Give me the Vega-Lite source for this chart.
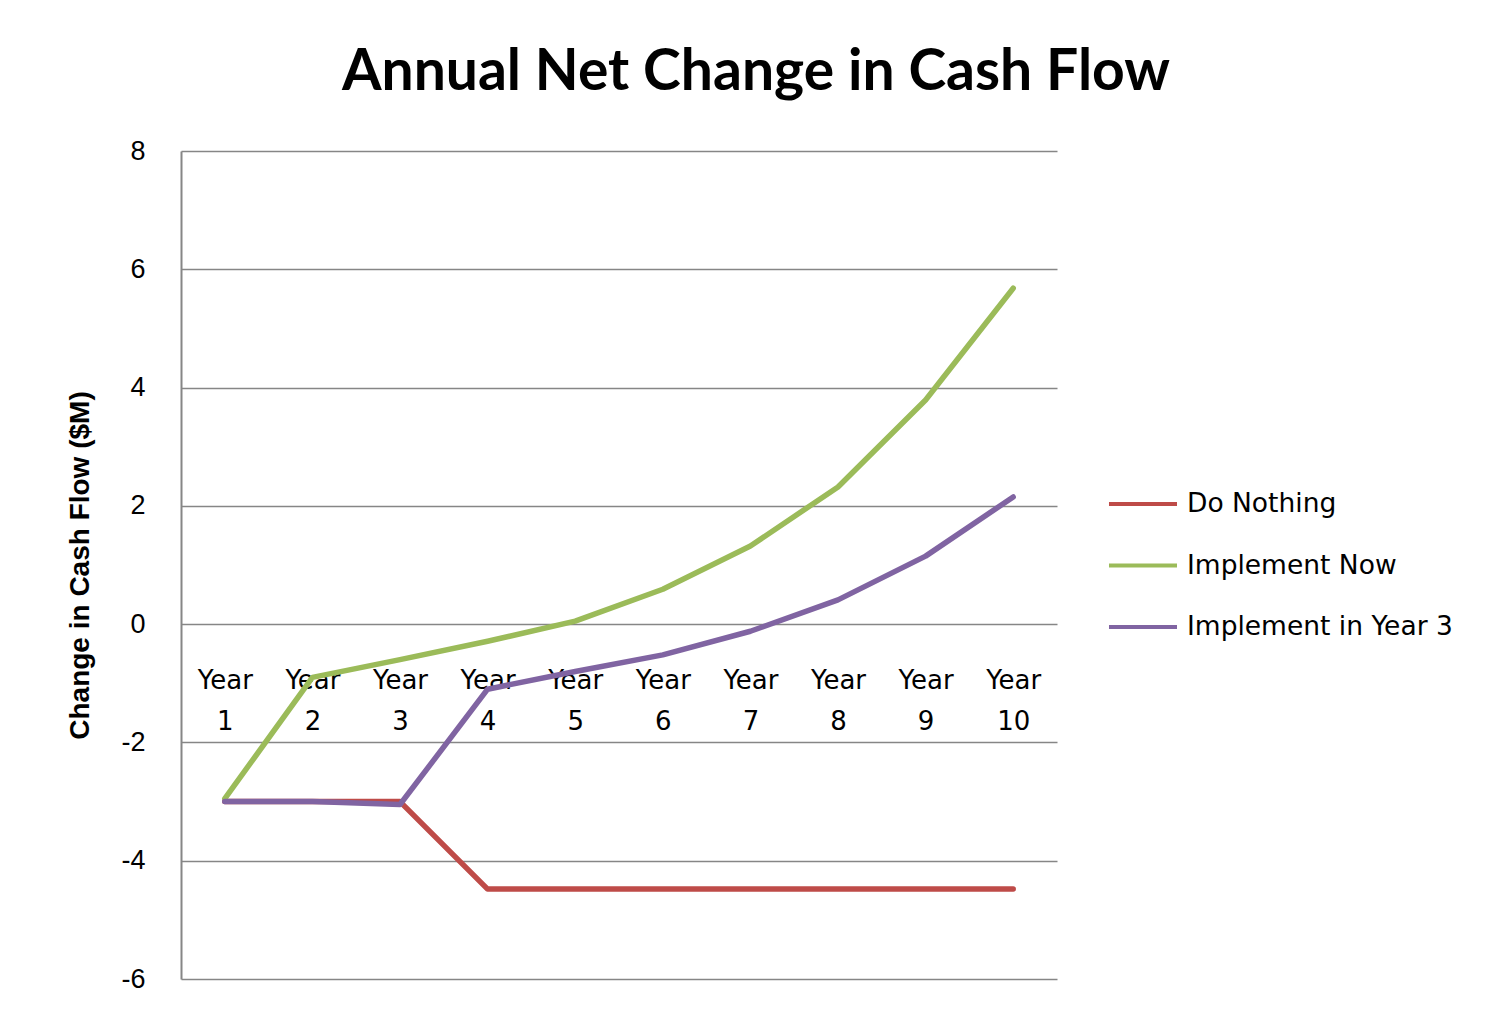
{
  "$schema": "https://vega.github.io/schema/vega-lite/v6.json",
  "width": 876,
  "height": 828,
  "autosize": {"type": "none"},
  "padding": {"left": 181, "top": 151, "right": 440, "bottom": 36},
  "background": "white",
  "title": {
    "text": "Annual Net Change in Cash Flow",
    "font": "Lato",
    "fontSize": 57,
    "fontWeight": "bold",
    "color": "#000000",
    "anchor": "middle",
    "frame": "group",
    "dx": 137,
    "offset": 35
  },
  "config": {
    "view": {"stroke": null},
    "legend": {"labelFont": "DejaVu Sans"}
  },
  "data": {
    "values": [
      {"year": "Year 1", "series": "Do Nothing", "value": -3.0},
      {"year": "Year 2", "series": "Do Nothing", "value": -3.0},
      {"year": "Year 3", "series": "Do Nothing", "value": -3.0},
      {"year": "Year 4", "series": "Do Nothing", "value": -4.48},
      {"year": "Year 5", "series": "Do Nothing", "value": -4.48},
      {"year": "Year 6", "series": "Do Nothing", "value": -4.48},
      {"year": "Year 7", "series": "Do Nothing", "value": -4.48},
      {"year": "Year 8", "series": "Do Nothing", "value": -4.48},
      {"year": "Year 9", "series": "Do Nothing", "value": -4.48},
      {"year": "Year 10", "series": "Do Nothing", "value": -4.48},
      {"year": "Year 1", "series": "Implement Now", "value": -2.95},
      {"year": "Year 2", "series": "Implement Now", "value": -0.9},
      {"year": "Year 3", "series": "Implement Now", "value": -0.6},
      {"year": "Year 4", "series": "Implement Now", "value": -0.29},
      {"year": "Year 5", "series": "Implement Now", "value": 0.05},
      {"year": "Year 6", "series": "Implement Now", "value": 0.59},
      {"year": "Year 7", "series": "Implement Now", "value": 1.32},
      {"year": "Year 8", "series": "Implement Now", "value": 2.32},
      {"year": "Year 9", "series": "Implement Now", "value": 3.79},
      {"year": "Year 10", "series": "Implement Now", "value": 5.68},
      {"year": "Year 1", "series": "Implement in Year 3", "value": -3.0},
      {"year": "Year 2", "series": "Implement in Year 3", "value": -3.0},
      {"year": "Year 3", "series": "Implement in Year 3", "value": -3.05},
      {"year": "Year 4", "series": "Implement in Year 3", "value": -1.1},
      {"year": "Year 5", "series": "Implement in Year 3", "value": -0.8},
      {"year": "Year 6", "series": "Implement in Year 3", "value": -0.52},
      {"year": "Year 7", "series": "Implement in Year 3", "value": -0.12},
      {"year": "Year 8", "series": "Implement in Year 3", "value": 0.41},
      {"year": "Year 9", "series": "Implement in Year 3", "value": 1.15},
      {"year": "Year 10", "series": "Implement in Year 3", "value": 2.15}
    ]
  },
  "mark": {"type": "line", "strokeWidth": 5.5, "strokeCap": "round", "strokeJoin": "round"},
  "encoding": {
    "x": {
      "field": "year",
      "type": "ordinal",
      "sort": null,
      "scale": {"type": "point", "padding": 0.5},
      "axis": {
        "title": null,
        "orient": "bottom",
        "offset": -355,
        "domain": false,
        "ticks": false,
        "grid": false,
        "labelAngle": 0,
        "labelFont": "DejaVu Sans",
        "labelFontSize": 26,
        "labelColor": "#000000",
        "labelPadding": 43,
        "labelLineHeight": 41,
        "labelExpr": "split(datum.label, ' ')",
        "zindex": 0
      }
    },
    "y": {
      "field": "value",
      "type": "quantitative",
      "scale": {"domain": [-6, 8], "nice": false, "zero": false},
      "axis": {
        "title": "Change in Cash Flow ($M)",
        "titleFont": "Liberation Sans",
        "titleFontSize": 28,
        "titleFontWeight": "bold",
        "titleColor": "#000000",
        "titlePadding": 26,
        "values": [-6, -4, -2, 0, 2, 4, 6, 8],
        "labelExpr": "toString(datum.value)",
        "labelFont": "Liberation Sans",
        "labelFontSize": 27,
        "labelColor": "#000000",
        "labelPadding": 36,
        "ticks": false,
        "domainColor": "#868686",
        "domainWidth": 2,
        "gridColor": "#868686",
        "gridWidth": 1.5,
        "zindex": 0
      }
    },
    "color": {
      "field": "series",
      "type": "nominal",
      "sort": ["Do Nothing", "Implement Now", "Implement in Year 3"],
      "scale": {
        "domain": ["Do Nothing", "Implement Now", "Implement in Year 3"],
        "range": ["#BE4B48", "#9BBB59", "#8064A2"]
      },
      "legend": {
        "title": null,
        "orient": "none",
        "legendX": 946,
        "legendY": 337,
        "symbolType": "M-2.5,0H2.5",
        "symbolSize": 740,
        "symbolStrokeWidth": 4,
        "labelFont": "DejaVu Sans",
        "labelFontSize": 26.5,
        "labelColor": "#000000",
        "labelLimit": 0,
        "labelOffset": 28,
        "rowPadding": 31.5,
        "padding": 0
      }
    }
  }
}
